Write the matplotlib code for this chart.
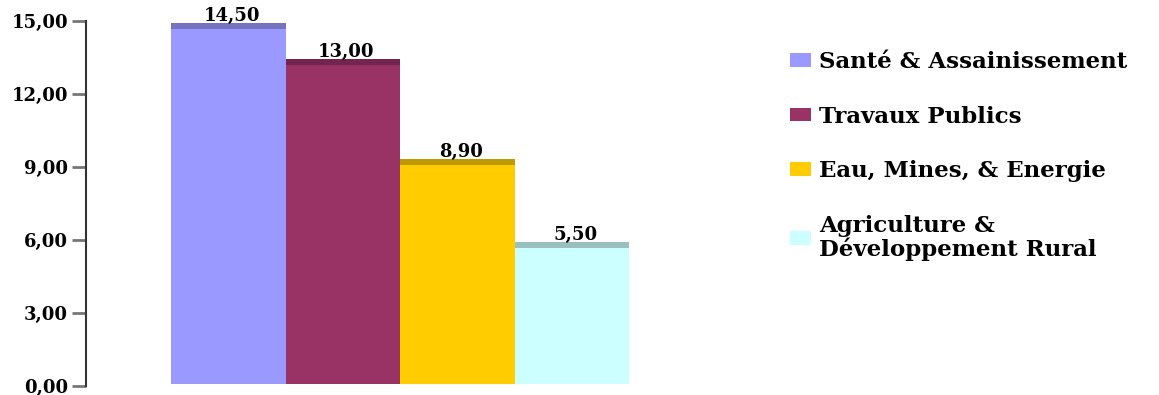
import matplotlib
matplotlib.use('Agg')
import matplotlib.pyplot as plt
from matplotlib.patches import Patch

plt.rcParams['font.family'] = ['DejaVu Serif']
plt.rcParams['font.weight'] = 'bold'

secteurs = ['Santé & Assainissement', 'Travaux Publics',
            'Eau, Mines, & Energie', 'Agriculture &\nDéveloppement Rural']
valeurs = [14.50, 13.00, 8.90, 5.50]
etiquettes = ['14,50', '13,00', '8,90', '5,50']
couleurs = ['#9999FF', '#993366', '#FFCC00', '#CCFFFF']
couleurs_haut = ['#7373BF', '#73264D', '#BF9900', '#99BFBF']
yticks = [0, 3, 6, 9, 12, 15]
ytick_labels = ['0,00', '3,00', '6,00', '9,00', '12,00', '15,00']

fig = plt.figure(figsize=(11.59, 3.95), dpi=100)
ax = fig.add_axes([86 / 1159, 9 / 395, 574 / 1159, 365.5 / 395])

# fake 3D look: bar sits slightly above the floor, darker top face
base = 0.1
top_lo = 0.16
top_hi = 0.41
for i, v in enumerate(valeurs):
    ax.bar(i, v + top_lo - base, bottom=base, width=1.0, color=couleurs[i],
           linewidth=0)
    ax.bar(i, top_hi - top_lo, bottom=v + top_lo, width=1.0,
           color=couleurs_haut[i], linewidth=0)
    ax.text(i + 0.03, v + top_hi - 0.08, etiquettes[i], ha='center',
            va='bottom', fontsize=13, fontweight='bold', color='black')

ax.set_xlim(-1.242, 3.77)
ax.set_ylim(0, 15)
ax.set_yticks(yticks)
ax.set_yticklabels(ytick_labels, fontsize=13, fontweight='bold')
ax.set_xticks([])
for s in ['top', 'right', 'bottom']:
    ax.spines[s].set_visible(False)
ax.spines['left'].set_color('#333333')
ax.spines['left'].set_linewidth(1.5)
ax.tick_params(axis='y', length=10, width=2, color='#777777', pad=3)

handles = [Patch(facecolor=c, edgecolor='none') for c in couleurs]
leg = fig.legend(handles, secteurs, loc='upper left',
                 bbox_to_anchor=(790 / 1159, 1 - 51 / 395), frameon=False,
                 handlelength=0.92, handleheight=0.53,
                 handletextpad=0.33, labelspacing=1.42, borderpad=0,
                 borderaxespad=0,
                 prop={'weight': 'bold', 'size': 16.5})
for t in leg.get_texts():
    t.set_linespacing(1.05)

fig.savefig('out.png', dpi=100)
